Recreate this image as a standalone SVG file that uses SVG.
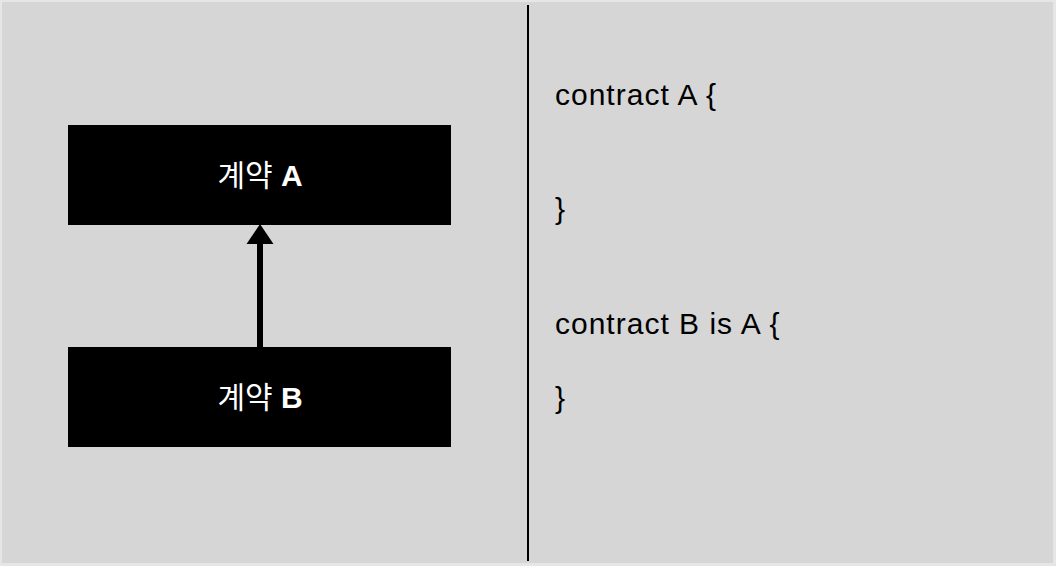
<svg xmlns="http://www.w3.org/2000/svg" width="1056" height="566" viewBox="0 0 1056 566">
  <style>
    .node rect { fill: #000000; }
    .label { font-family: "Liberation Sans", "Noto Sans CJK KR", sans-serif; font-size: 30px; font-weight: bold; fill: #ffffff; text-anchor: middle; }
    .ko { font-family: "Noto Sans CJK KR", sans-serif; font-weight: normal; }
    .code { font-family: "Liberation Sans", Arial, sans-serif; font-size: 30px; letter-spacing: 1px; fill: #000000; }
    .edge { stroke: #000000; stroke-width: 6; fill: none; }
  </style>
  <rect x="0" y="0" width="1056" height="566" fill="#e6e6e6"/>
  <rect x="2" y="2" width="1051" height="561" fill="#d6d6d6"/>
  <line x1="528" y1="5" x2="528" y2="561" stroke="#000000" stroke-width="2"/>
  <g id="nodeA" class="node">
    <rect x="68" y="125" width="383" height="100"/>
    <text class="label" x="260" y="186"><tspan class="ko">계약</tspan> A</text>
  </g>
  <g id="nodeB" class="node">
    <rect x="68" y="347" width="383" height="100"/>
    <text class="label" x="260" y="408"><tspan class="ko">계약</tspan> B</text>
  </g>
  <g id="connectors">
    <line class="edge" x1="260" y1="347" x2="260" y2="243"/>
    <polygon points="260,224 246.5,244 273.5,244" fill="#000000"/>
  </g>
  <g id="code">
    <text class="code" x="555" y="105">contract A {</text>
    <text class="code" x="555" y="219">}</text>
    <text class="code" x="555" y="334">contract B is A {</text>
    <text class="code" x="555" y="408">}</text>
  </g>
</svg>
